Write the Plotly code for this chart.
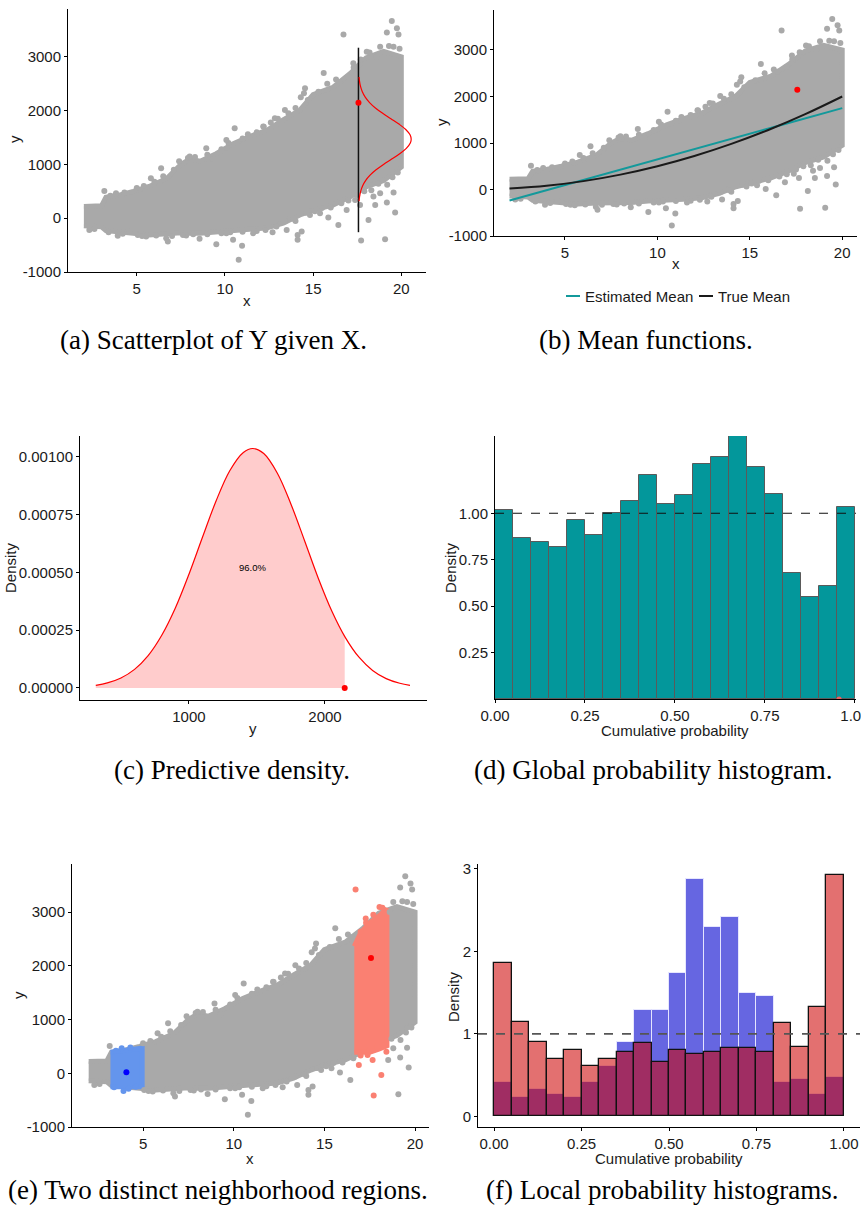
import plotly.graph_objects as go

W, H = 861, 1211

# ---------------- data ----------------
# scatter cloud (dense core) envelope
cloud_x = [2.0, 3.0, 3.25, 4.0, 4.8, 5.7, 6.7, 7.5, 8.0, 8.6, 9.5, 10.5, 11.4, 12.4, 13.3, 14.25, 15.0, 16.15, 17.1, 18.0, 19.0, 20.0]
cloud_top = [220, 230, 390, 430, 500, 590, 740, 1000, 1100, 1060, 1200, 1390, 1520, 1640, 1830, 2010, 2300, 2440, 2690, 2980, 3100, 3000]
cloud_bottom = [-140, -160, -230, -250, -280, -310, -290, -270, -280, -280, -250, -220, -210, -180, -90, 60, 150, 250, 400, 580, 700, 950]

# points scattered along the fuzzy edge of the core
edge_x = [3.5, 4.3, 5.0, 5.4, 6.0, 6.5, 7.1, 7.4, 7.9, 8.3, 9.0, 9.3, 9.8, 10.2, 11.0, 11.3, 11.8, 12.2,
          12.6, 13.0, 13.6, 14.0, 14.3, 14.7, 15.3, 15.8, 16.3, 16.5, 17.3, 17.7, 18.2, 18.6, 19.3, 19.9,
          2.6, 3.4, 4.2, 4.6, 5.3, 6.1, 7.0, 7.8, 8.2, 9.0, 9.8, 10.3, 11.0, 11.8, 12.3, 12.9, 13.4, 13.7,
          14.0, 14.6, 15.1, 15.5, 16.0, 16.6, 17.0, 17.5, 17.9, 18.3, 18.7, 19.2, 19.5, 19.8]
edge_y = [420, 480, 560, 600, 680, 780, 900, 1060, 1120, 1140, 1180, 1100, 1280, 1400, 1480, 1560, 1600, 1700,
          1780, 1850, 1950, 2050, 2250, 2200, 2350, 2500, 2580, 2530, 2800, 2950, 3080, 3000, 3200, 3150,
          -200, -260, -290, -250, -330, -320, -330, -320, -300, -300, -280, -260, -250, -240, -220, -130, -60, 10,
          -50, 100, 130, 190, 200, 280, 330, 430, 500, 520, 640, 620, 760, 850]

# isolated points outside the dense core
out_x = [16.72, 19.46, 19.75, 19.18, 19.84, 18.8, 19.56, 18.04, 17.28, 17.0, 15.6, 14.54, 14.48, 12.83, 13.4,
         12.17, 10.55, 10.08, 8.94, 8.0, 6.38, 5.8, 3.16, 3.82,
         2.31, 3.92, 5.06, 5.53, 6.67, 6.76, 7.62, 8.56, 9.51, 10.08, 10.46, 10.97, 10.78, 11.6, 12.7, 12.92,
         13.5, 13.87, 14.12, 14.12, 14.35, 14.82, 15.39, 15.86, 16.43, 16.9, 17.38, 17.66, 17.72, 18.14, 18.52,
         18.42, 18.8, 19.08, 19.18, 19.56, 19.65]
out_y = [3418, 3666, 3530, 3455, 3418, 3189, 3189, 3096, 2879, 2632, 2700, 2415, 2322, 1858, 2012,
         1703, 1672, 1455, 1300, 1146, 929, 743, 508, 464,
         -217, -328, -310, -341, -372, -433, -310, -384, -483, -279, -402, -514, -774, -279, -260, -155,
         -217, -12, -402, -310, -248, 62, 93, 12, -124, 155, 341, 248, -415, -31, 248,
         402, 464, -390, 291, 477, 105]

# neighbourhood regions (panel e)
blue_x = [3.2, 4.0, 4.95]
blue_top = [390, 420, 470]
blue_bottom = [-250, -260, -250]
red_x = [16.65, 17.0, 17.5, 18.0, 18.45]
red_top = [2360, 2610, 2800, 2920, 3060]
red_bottom = [390, 390, 390, 450, 510]
blue_lo, blue_hi = 3.2, 4.95
red_lo, red_hi = 16.65, 18.45

# observed points
obs_x, obs_y = 17.57, 2145
blue_pt_x, blue_pt_y = 4.08, 18
vline_y = [-260, 3170]

# mean functions
est_x = [2, 20]
est_y = [-235, 1750]
true_x = [2, 4, 6, 8, 10, 12, 14, 16, 18, 20]
true_y = [20, 80, 180, 320, 500, 720, 980, 1280, 1620, 2000]

# predictive density
dens_y = [315, 400, 500, 600, 700, 800, 900, 1000, 1100, 1200, 1300, 1400, 1470, 1550, 1650, 1750,
          1850, 1950, 2050, 2150, 2250, 2350, 2450, 2550, 2625]
dens_v = [0.0000115, 0.0000218, 0.0000433, 0.0000806, 0.000140, 0.000228, 0.000346, 0.000492, 0.000653,
          0.000810, 0.000940, 0.001019, 0.001036, 0.001014, 0.000929, 0.000795, 0.000637, 0.000476,
          0.000333, 0.000218, 0.000133, 0.0000760, 0.0000406, 0.0000203, 0.0000115]
obs_dens = 0.00022
pct_label = "96.0%"

# histograms
bin_left = [0.00, 0.05, 0.10, 0.15, 0.20, 0.25, 0.30, 0.35, 0.40, 0.45,
            0.50, 0.55, 0.60, 0.65, 0.70, 0.75, 0.80, 0.85, 0.90, 0.95]
global_h = [1.016, 0.866, 0.848, 0.819, 0.964, 0.882, 1.004, 1.065, 1.206, 1.048,
            1.099, 1.263, 1.301, 1.416, 1.247, 1.102, 0.679, 0.548, 0.609, 1.032]
pit_obs = 0.956
local_blue = [0.413, 0.235, 0.332, 0.271, 0.235, 0.413, 0.611, 0.895, 1.291, 1.291,
              1.737, 2.874, 2.291, 2.413, 1.494, 1.457, 0.413, 0.453, 0.271, 0.474]
local_red = [1.858, 1.138, 0.899, 0.700, 0.798, 0.615, 0.696, 0.777, 0.883, 0.664,
             0.798, 0.761, 0.777, 0.834, 0.834, 0.777, 1.126, 0.838, 1.320, 2.923]
bin_w = 0.05

captions = ["(a) Scatterplot of Y given X.", "(b) Mean functions.", "(c) Predictive density.",
            "(d) Global probability histogram.", "(e) Two distinct neighborhood regions.",
            "(f) Local probability histograms."]

# ---------------- styling ----------------
GRAY = "#A9A9A9"
TEAL = "#03979B"
SANS = "Liberation Sans, Arial, sans-serif"
SERIF = "Liberation Serif, Times New Roman, serif"
TXT = "#1a1a1a"


def dx(l, r):
    return [l / W, r / W]


def dy(t, b):
    return [1 - b / H, 1 - t / H]


def px(x):
    return x / W


def py(y):
    return 1 - y / H


def axis(domain, rng, tickvals, ticktext, anchor):
    return dict(domain=domain, range=rng, tickmode="array", tickvals=tickvals, ticktext=ticktext,
                showline=True, linecolor="black", linewidth=1, ticks="outside", ticklen=3,
                tickcolor="black", tickwidth=1, showgrid=False, zeroline=False, anchor=anchor,
                automargin=False, tickfont=dict(family=SANS, size=15, color=TXT), fixedrange=True)


fig = go.Figure()

poly_x = cloud_x + cloud_x[::-1]
poly_y = cloud_top + cloud_bottom[::-1]
pts_x = edge_x + out_x
pts_y = edge_y + out_y


def add_cloud(xa, ya, color_regions=False):
    fig.add_trace(go.Scatter(x=poly_x, y=poly_y, mode="lines", fill="toself", fillcolor=GRAY,
                             line=dict(color=GRAY, width=5), xaxis=xa, yaxis=ya, hoverinfo="skip"))
    if not color_regions:
        fig.add_trace(go.Scatter(x=pts_x, y=pts_y, mode="markers", marker=dict(color=GRAY, size=6),
                                 xaxis=xa, yaxis=ya, hoverinfo="skip"))
    else:
        cols = []
        for xv in pts_x:
            if blue_lo <= xv <= blue_hi:
                cols.append("#6495ED")
            elif red_lo <= xv <= red_hi:
                cols.append("#FA8072")
            else:
                cols.append(GRAY)
        fig.add_trace(go.Scatter(x=blue_x + blue_x[::-1], y=blue_top + blue_bottom[::-1], mode="lines",
                                 fill="toself", fillcolor="#6495ED", line=dict(color="#6495ED", width=5),
                                 xaxis=xa, yaxis=ya, hoverinfo="skip"))
        fig.add_trace(go.Scatter(x=red_x + red_x[::-1], y=red_top + red_bottom[::-1], mode="lines",
                                 fill="toself", fillcolor="#FA8072", line=dict(color="#FA8072", width=5),
                                 xaxis=xa, yaxis=ya, hoverinfo="skip"))
        fig.add_trace(go.Scatter(x=pts_x, y=pts_y, mode="markers", marker=dict(color=cols, size=6),
                                 xaxis=xa, yaxis=ya, hoverinfo="skip"))


# ---- panel a ----
add_cloud("x", "y")
fig.add_trace(go.Scatter(x=[obs_x, obs_x], y=vline_y, mode="lines", line=dict(color="#111111", width=1.5),
                         xaxis="x", yaxis="y"))
scale_a = 2886.0
fig.add_trace(go.Scatter(x=[obs_x + v * scale_a for v in dens_v], y=dens_y, mode="lines",
                         line=dict(color="red", width=1.2, shape="spline"), xaxis="x", yaxis="y"))
fig.add_trace(go.Scatter(x=[obs_x], y=[obs_y], mode="markers", marker=dict(color="red", size=6),
                         xaxis="x", yaxis="y"))

# ---- panel b ----
add_cloud("x2", "y2")
fig.add_trace(go.Scatter(x=est_x, y=est_y, mode="lines", line=dict(color="#13999B", width=2),
                         xaxis="x2", yaxis="y2"))
fig.add_trace(go.Scatter(x=true_x, y=true_y, mode="lines", line=dict(color="#1a1a1a", width=2, shape="spline"),
                         xaxis="x2", yaxis="y2"))
fig.add_trace(go.Scatter(x=[obs_x], y=[obs_y], mode="markers", marker=dict(color="red", size=6),
                         xaxis="x2", yaxis="y2"))

# ---- panel c ----
fx = [v for v in dens_y if v < obs_y] + [obs_y]
fy = [d for v, d in zip(dens_y, dens_v) if v < obs_y] + [obs_dens]
fig.add_trace(go.Scatter(x=fx, y=fy, mode="lines", fill="tozeroy", fillcolor="#FFCCCC",
                         line=dict(width=0, color="#FFCCCC", shape="spline"), xaxis="x3", yaxis="y3"))
fig.add_trace(go.Scatter(x=dens_y, y=dens_v, mode="lines", line=dict(color="red", width=1.2, shape="spline"),
                         xaxis="x3", yaxis="y3"))
fig.add_trace(go.Scatter(x=[obs_y], y=[0], mode="markers", marker=dict(color="red", size=6),
                         xaxis="x3", yaxis="y3", cliponaxis=False))

# ---- panel d ----
centers = [b + bin_w / 2 for b in bin_left]
fig.add_trace(go.Bar(x=centers, y=global_h, width=bin_w, marker=dict(color=TEAL, line=dict(color="#5a5a5a", width=1)),
                     xaxis="x4", yaxis="y4"))
fig.add_trace(go.Scatter(x=[pit_obs], y=[0], mode="markers", marker=dict(color="#F25C5C", size=5),
                         xaxis="x4", yaxis="y4", cliponaxis=True))

# ---- panel e ----
add_cloud("x5", "y5", color_regions=True)
fig.add_trace(go.Scatter(x=[blue_pt_x], y=[blue_pt_y], mode="markers", marker=dict(color="blue", size=6),
                         xaxis="x5", yaxis="y5"))
fig.add_trace(go.Scatter(x=[obs_x], y=[obs_y], mode="markers", marker=dict(color="red", size=6),
                         xaxis="x5", yaxis="y5"))

# ---- panel f ----
fig.add_trace(go.Bar(x=centers, y=local_blue, width=bin_w,
                     marker=dict(color="rgb(102,102,225)", line=dict(color="rgba(235,235,255,0.9)", width=1)),
                     xaxis="x6", yaxis="y6"))
fig.add_trace(go.Bar(x=centers, y=local_red, width=bin_w,
                     marker=dict(color="rgba(205,0,0,0.56)", line=dict(color="#111111", width=1.3)),
                     xaxis="x6", yaxis="y6"))

# ---------------- layout ----------------
x4 = axis(dx(495, 856), [0, 1.003], [0, 0.25, 0.5, 0.75, 1.0], ["0.00", "0.25", "0.50", "0.75", "1.00"], "y4")
x4["ticklabeloverflow"] = "allow"
lay = dict(
    width=W, height=H, margin=dict(l=0, r=0, t=0, b=0), showlegend=False,
    plot_bgcolor="white", paper_bgcolor="white", barmode="overlay", bargap=0,
    xaxis=axis(dx(68, 426), [1.1, 21.4], [5, 10, 15, 20], ["5", "10", "15", "20"], "y"),
    yaxis=axis(dy(9, 272), [-1000, 3890], [-1000, 0, 1000, 2000, 3000], ["-1000", "0", "1000", "2000", "3000"], "x"),
    xaxis2=axis(dx(494, 857), [1.16, 20.8], [5, 10, 15, 20], ["5", "10", "15", "20"], "y2"),
    yaxis2=axis(dy(10, 236), [-1000, 3860], [-1000, 0, 1000, 2000, 3000], ["-1000", "0", "1000", "2000", "3000"], "x2"),
    xaxis3=axis(dx(80, 427), [199, 2750], [1000, 2000], ["1000", "2000"], "y3"),
    yaxis3=axis(dy(436, 700), [-0.000052, 0.00109], [0, 0.00025, 0.0005, 0.00075, 0.001],
                ["0.00000", "0.00025", "0.00050", "0.00075", "0.00100"], "x3"),
    xaxis4=x4,
    yaxis4=axis(dy(436, 699), [0, 1.416], [0.25, 0.5, 0.75, 1.0], ["0.25", "0.50", "0.75", "1.00"], "x4"),
    xaxis5=axis(dx(72, 429), [1.08, 20.77], [5, 10, 15, 20], ["5", "10", "15", "20"], "y5"),
    yaxis5=axis(dy(864, 1127), [-1000, 3894], [-1000, 0, 1000, 2000, 3000], ["-1000", "0", "1000", "2000", "3000"], "x5"),
    xaxis6=axis(dx(478, 860), [-0.046, 1.046], [0, 0.25, 0.5, 0.75, 1.0], ["0.00", "0.25", "0.50", "0.75", "1.00"], "y6"),
    yaxis6=axis(dy(864, 1127), [-0.13, 3.06], [0, 1, 2, 3], ["0", "1", "2", "3"], "x6"),
)
fig.update_layout(**lay)

# reference lines at density 1
fig.add_shape(type="line", xref="x4 domain", yref="y4", x0=0, x1=1, y0=1, y1=1,
              line=dict(color="#111111", width=1.2, dash="dash"), layer="above")
fig.add_shape(type="line", xref="x6 domain", yref="y6", x0=0, x1=1, y0=1, y1=1,
              line=dict(color="#555555", width=1.6, dash="dash"), layer="above")

ann = []


def title(text, x, y, rot=0, size=15):
    ann.append(dict(text=text, x=px(x), y=py(y), xref="paper", yref="paper", showarrow=False,
                    xanchor="center", yanchor="middle", textangle=rot,
                    font=dict(family=SANS, size=size, color=TXT)))


title("y", 14, 139, -90)
title("x", 247, 300)
title("y", 442, 122, -90)
title("x", 676, 263)
title("Density", 10, 568, -90)
title("y", 253, 729)
title("Density", 450, 568, -90)
title("Cumulative probability", 675, 730)
title("y", 19, 995, -90)
title("x", 250, 1158)
title("Density", 453, 997, -90)
title("Cumulative probability", 669, 1158)

# text inside panel c
ann.append(dict(text=pct_label, x=1470, y=0.00052, xref="x3", yref="y3", showarrow=False,
                font=dict(family=SANS, size=9.5, color="black")))

# legend for panel b
fig.add_shape(type="line", xref="paper", yref="paper", x0=px(566), x1=px(580), y0=py(296), y1=py(296),
              line=dict(color="#13999B", width=2))
fig.add_shape(type="line", xref="paper", yref="paper", x0=px(699), x1=px(713), y0=py(296), y1=py(296),
              line=dict(color="#1a1a1a", width=2))
ann.append(dict(text="Estimated Mean", x=px(583), y=py(296), xref="paper", yref="paper", showarrow=False,
                xanchor="left", yanchor="middle", font=dict(family=SANS, size=15, color=TXT)))
ann.append(dict(text="True Mean", x=px(716), y=py(296), xref="paper", yref="paper", showarrow=False,
                xanchor="left", yanchor="middle", font=dict(family=SANS, size=15, color=TXT)))

# captions
cap_pos = [(213, 340), (646, 340), (232, 770), (653, 770), (218, 1190), (662, 1190)]
for t, (cx, cy) in zip(captions, cap_pos):
    ann.append(dict(text=t, x=px(cx), y=py(cy), xref="paper", yref="paper", showarrow=False,
                    xanchor="center", yanchor="middle", font=dict(family=SERIF, size=27, color="black")))

fig.update_layout(annotations=ann)
fig.write_html("out.html")
